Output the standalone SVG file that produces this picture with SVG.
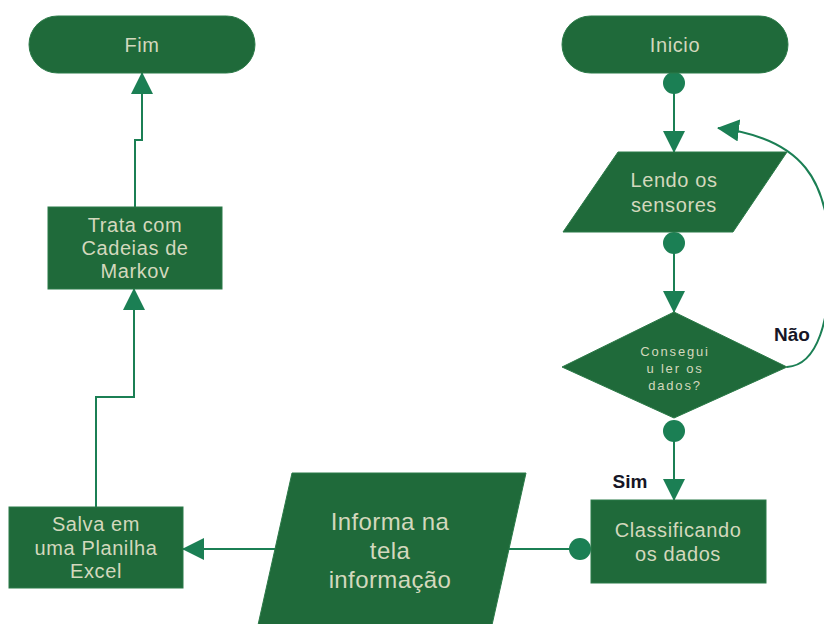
<svg xmlns="http://www.w3.org/2000/svg" width="824" height="624" viewBox="0 0 824 624">
<style>
.node{fill:#1f6a3a;stroke:#2b7a48;stroke-width:1}
.t{font-family:"Liberation Sans",Arial,sans-serif;fill:#d3d8bd;text-anchor:middle;font-size:20px;letter-spacing:0.6px}
.big{font-size:24px;letter-spacing:0.4px}
.small{font-size:13px;letter-spacing:1.8px}
.lbl{font-family:"Liberation Sans",Arial,sans-serif;font-weight:bold;fill:#161626;font-size:19px;text-anchor:middle}
.c{fill:none;stroke:#1b7f54;stroke-width:2}
.dot{fill:#1b7f54}
</style>
<defs>
<marker id="arr" viewBox="0 0 22 22" markerWidth="22" markerHeight="22" markerUnits="userSpaceOnUse" refX="21" refY="11" orient="auto">
<path d="M0,0 L22,11 L0,22 Z" fill="#1b7f54"/>
</marker>
</defs>
<g id="connectors">
<circle class="dot" cx="674" cy="83" r="11"/>
<line class="c" x1="674" y1="83" x2="674" y2="152" marker-end="url(#arr)"/>
<circle class="dot" cx="674" cy="243" r="11"/>
<line class="c" x1="674" y1="243" x2="674" y2="312" marker-end="url(#arr)"/>
<circle class="dot" cx="674" cy="431" r="11"/>
<line class="c" x1="674" y1="431" x2="674" y2="500" marker-end="url(#arr)"/>
<path class="c" d="M787,367 C818,365 830,320 830,260 C830,180 802,138 718,128" marker-end="url(#arr)"/>
<circle class="dot" cx="580" cy="549" r="11"/>
<line class="c" x1="580" y1="549" x2="505" y2="549"/>
<line class="c" x1="278" y1="549" x2="183" y2="549" marker-end="url(#arr)"/>
<polyline class="c" points="96,507 96,397 134,397 134,289" marker-end="url(#arr)"/>
<polyline class="c" points="135,207 135,140 142,140 142,73" marker-end="url(#arr)"/>
<text class="lbl" x="792" y="341">Não</text>
<text class="lbl" x="630" y="488">Sim</text>
</g>
<g id="fim">
<rect class="node" x="29" y="16" width="226" height="57" rx="28.5"/>
<text class="t" x="142" y="52">Fim</text>
</g>
<g id="inicio">
<rect class="node" x="562" y="16" width="226" height="57" rx="28.5"/>
<text class="t" x="675" y="52">Inicio</text>
</g>
<g id="lendo">
<polygon class="node" points="618,152 787,152 733,232 563,232"/>
<text class="t" x="674" y="187">Lendo os</text>
<text class="t" x="674" y="212">sensores</text>
</g>
<g id="decisao">
<polygon class="node" points="674,312 787,367 674,418 562,367"/>
<text class="t small" x="675" y="356">Consegui</text>
<text class="t small" x="675" y="373">u ler os</text>
<text class="t small" x="675" y="390">dados?</text>
</g>
<g id="classificando">
<rect class="node" x="591" y="500" width="175" height="83"/>
<text class="t" x="678" y="537">Classificando</text>
<text class="t" x="678" y="561">os dados</text>
</g>
<g id="informa">
<polygon class="node" points="292,473 526,473 492,625 258,625"/>
<text class="t big" x="390" y="530">Informa na</text>
<text class="t big" x="390" y="559">tela</text>
<text class="t big" x="390" y="588">informação</text>
</g>
<g id="salva">
<rect class="node" x="9" y="507" width="174" height="81"/>
<text class="t" x="96" y="531">Salva em</text>
<text class="t" x="96" y="555">uma Planilha</text>
<text class="t" x="96" y="578">Excel</text>
</g>
<g id="trata">
<rect class="node" x="48" y="207" width="174" height="82"/>
<text class="t" x="135" y="232">Trata com</text>
<text class="t" x="135" y="255">Cadeias de</text>
<text class="t" x="135" y="278">Markov</text>
</g>
</svg>
